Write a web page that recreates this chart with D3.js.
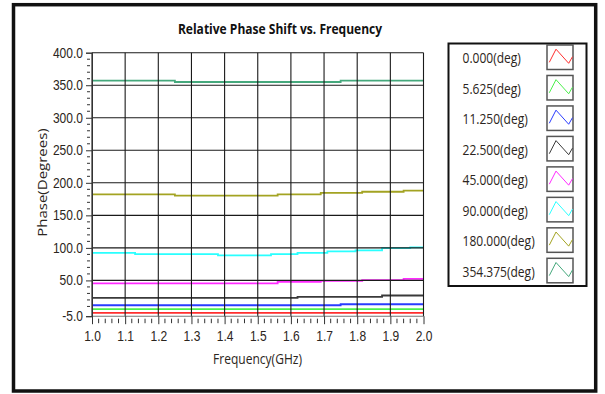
<!DOCTYPE html>
<html>
<head>
<meta charset="utf-8">
<script src="https://d3js.org/d3.v7.min.js"></script>
<style>
  html, body { margin: 0; padding: 0; background: #fff; }
  svg { display: block; font-family: "Open Sans", sans-serif; }
</style>
</head>
<body>
<div id="chart"></div>
<script>
// tick labels
const xTicks = [1.0, 1.1, 1.2, 1.3, 1.4, 1.5, 1.6, 1.7, 1.8, 1.9, 2.0];
const yTicks = [-5, 50, 100, 150, 200, 250, 300, 350, 400];

// legend / series names
const legendLabels = ["0.000(deg)", "5.625(deg)", "11.250(deg)", "22.500(deg)",
  "45.000(deg)", "90.000(deg)", "180.000(deg)", "354.375(deg)"];
const seriesColors = ["#ff2e2e", "#4cf04c", "#2a3cff", "#3a3a3a",
  "#ff2aff", "#2affff", "#a3a322", "#45a87c"];

// measured phase, [GHz, deg], each point starts a step
const phase0 = [[1.0, 0.1], [2.0, 0.1]];
const phase5 = [[1.0, 5.8], [2.0, 5.8]];
const phase11 = [[1.0, 11.8], [1.75, 13.4], [2.0, 13.4]];
const phase22 = [[1.0, 23.2], [1.62, 24.8], [1.875, 26.8], [2.0, 26.8]];
const phase45 = [[1.0, 45.3], [1.56, 47.8], [1.69, 49.3], [1.815, 50.3], [1.94, 52.4], [2.0, 52.4]];
const phase90 = [[1.0, 92.4], [1.13, 90.4], [1.38, 88.4], [1.54, 90.4], [1.62, 92.4],
  [1.71, 94.5], [1.795, 96.2], [1.875, 99.6], [1.96, 100.9], [2.0, 100.9]];
const phase180 = [[1.0, 182.3], [1.25, 180.3], [1.56, 182.3], [1.69, 184.5],
  [1.815, 186.3], [1.94, 188.0], [2.0, 188.0]];
const phase354 = [[1.0, 357.0], [1.25, 355.0], [1.75, 357.0], [2.0, 357.0]];

const allSeries = [phase0, phase5, phase11, phase22, phase45, phase90, phase180, phase354];

const W = 605, H = 394;
const squeeze = 0.86; // the original picture is a bit narrowed

const svg = d3.select("#chart").append("svg")
  .attr("width", W)
  .attr("height", H);

// outer frame
svg.append("rect")
  .attr("x", 13.5).attr("y", 4.7)
  .attr("width", 582.2).attr("height", 386.3)
  .attr("fill", "#fff")
  .attr("stroke", "#111")
  .attr("stroke-width", 3.5);

const x = d3.scaleLinear().domain([1.0, 2.0]).range([92, 423.5]);
const y = d3.scaleLinear().domain([-5, 400]).range([316.2, 52.7]);

// series (drawn below the grid like the original)
const line = d3.line()
  .x(d => x(d[0]))
  .y(d => y(d[1]))
  .curve(d3.curveStepAfter);

svg.append("g").selectAll("path")
  .data(allSeries)
  .enter()
  .append("path")
  .attr("d", d => line(d))
  .attr("fill", "none")
  .attr("stroke", (d, i) => seriesColors[i])
  .attr("stroke-width", 1.8);

// grid
const grid = svg.append("g");
grid.selectAll(".vgrid")
  .data(xTicks)
  .enter()
  .append("line")
  .attr("class", "vgrid")
  .attr("x1", d => x(d)).attr("x2", d => x(d))
  .attr("y1", y(400)).attr("y2", y(-5))
  .attr("stroke", "#1a1a1a")
  .attr("stroke-width", 1.1);

grid.selectAll(".hgrid")
  .data(yTicks)
  .enter()
  .append("line")
  .attr("class", "hgrid")
  .attr("x1", x(1.0)).attr("x2", x(2.0))
  .attr("y1", d => y(d)).attr("y2", d => y(d))
  .attr("stroke", d => d === -5 ? "#777" : "#1a1a1a")
  .attr("stroke-width", 1.1);

const fmt = d => d.toFixed(1); // plain hyphen for -5.0

// y axis
const yAxisG = svg.append("g")
  .attr("transform", "translate(" + x(1.0) + ",0)")
  .call(d3.axisLeft(y).tickValues(yTicks).tickSize(6).tickFormat(fmt));
yAxisG.select(".domain").attr("stroke", "#333");
yAxisG.selectAll(".tick line").attr("stroke", "#333");
yAxisG.selectAll(".tick text")
  .attr("x", -9 / squeeze)
  .attr("transform", "scale(" + squeeze + ",1)")
  .style("font-size", "14px")
  .style("fill", "#2b2520");

const yMinor = d3.range(0, 400, 10).filter(v => v % 50 !== 0);
yAxisG.selectAll(".minor")
  .data(yMinor)
  .enter()
  .append("line")
  .attr("class", "minor")
  .attr("x1", -5).attr("x2", -2)
  .attr("y1", d => y(d)).attr("y2", d => y(d))
  .attr("stroke", "#333");

// x axis
const xAxisG = svg.append("g")
  .attr("transform", "translate(0," + y(-5) + ")")
  .call(d3.axisBottom(x).tickValues(xTicks).tickSize(8).tickFormat(fmt));
xAxisG.select(".domain").remove();
xAxisG.selectAll(".tick line").attr("stroke", "#333");
xAxisG.selectAll(".tick text")
  .attr("y", 15)
  .attr("transform", "scale(" + squeeze + ",1)")
  .style("font-size", "14px")
  .style("fill", "#2b2520");

const xMinor = d3.range(1.02, 2.0, 0.02).filter(v => Math.abs(v * 10 - Math.round(v * 10)) > 0.05);
xAxisG.selectAll(".minor")
  .data(xMinor)
  .enter()
  .append("line")
  .attr("class", "minor")
  .attr("x1", d => x(d)).attr("x2", d => x(d))
  .attr("y1", 2.5).attr("y2", 7)
  .attr("stroke", "#333");

// titles
svg.append("text")
  .attr("transform", "translate(280,33.5) scale(" + squeeze + ",1)")
  .attr("text-anchor", "middle")
  .style("font-size", "14px")
  .style("font-weight", "bold")
  .style("fill", "#111")
  .text("Relative Phase Shift vs. Frequency");

svg.append("text")
  .attr("transform", "translate(257.5,364) scale(" + squeeze + ",1)")
  .attr("text-anchor", "middle")
  .style("font-size", "14px")
  .style("fill", "#2b2520")
  .text("Frequency(GHz)");

svg.append("text")
  .attr("transform", "translate(46.7,182.5) rotate(-90) scale(1," + squeeze + ")")
  .attr("text-anchor", "middle")
  .style("font-size", "15px")
  .style("fill", "#2b2520")
  .text("Phase(Degrees)");

// legend
svg.append("rect")
  .attr("x", 448.5).attr("y", 43.5)
  .attr("width", 138).attr("height", 242.5)
  .attr("fill", "#fff")
  .attr("stroke", "#111")
  .attr("stroke-width", 2);

const rowY = d3.scaleLinear().domain([0, 7]).range([45, 258.3]);
const rows = svg.append("g").selectAll("g")
  .data(legendLabels)
  .enter()
  .append("g")
  .attr("transform", (d, i) => "translate(0," + rowY(i) + ")");

rows.append("text")
  .attr("transform", "translate(462.5,18.3) scale(" + squeeze + ",1)")
  .style("font-size", "14px")
  .style("fill", "#2b2520")
  .text(d => d);

rows.append("rect")
  .attr("x", 547).attr("y", 0)
  .attr("width", 26).attr("height", 24.5)
  .attr("fill", "#fff")
  .attr("stroke", "#555")
  .attr("stroke-width", 1.5);

const iconPts = [[2.3, 17.3], [9, 4.2], [21.7, 18.3], [25.5, 11.7]];
rows.append("path")
  .attr("d", d3.line()(iconPts.map(p => [547 + p[0], p[1]])))
  .attr("fill", "none")
  .attr("stroke", (d, i) => seriesColors[i])
  .attr("stroke-width", 1);
</script>
</body>
</html>
